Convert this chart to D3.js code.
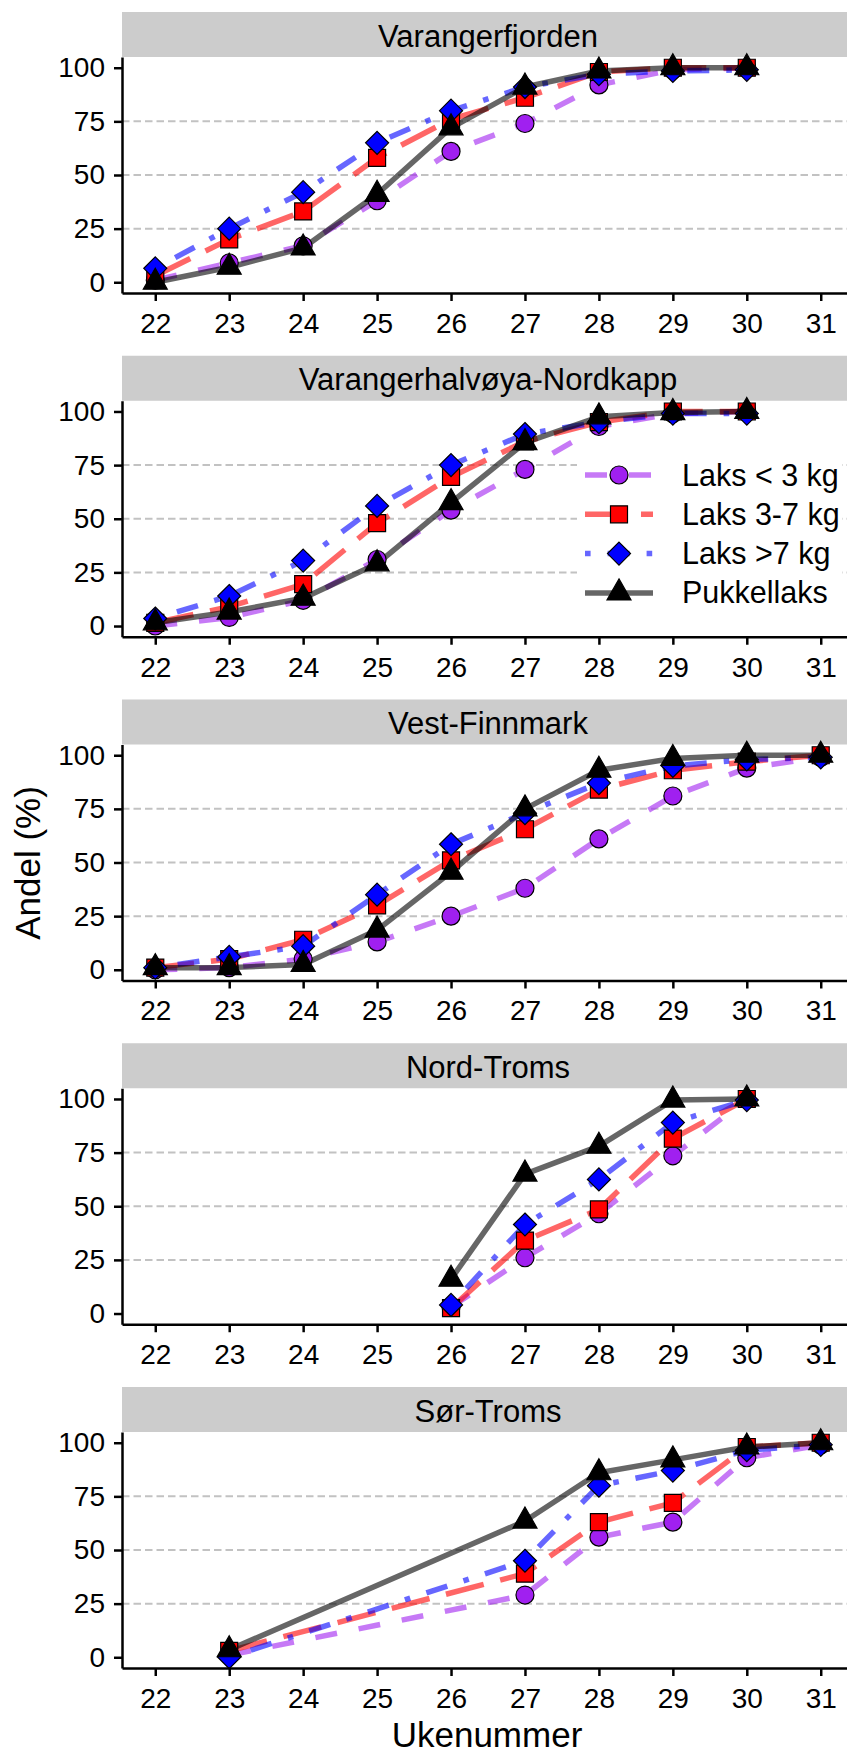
<!DOCTYPE html>
<meta charset="utf-8">
<head>
<style>
  body { margin: 0; background: #fff; }
  text { font-family: "Liberation Sans", Arial, sans-serif; fill: #000; }
</style>
</head>
<body>
<div id="my_dataviz"></div>

<script src="https://d3js.org/d3.v7.min.js"></script>
<script>

// weeks and ticks
var weeks = [22, 23, 24, 25, 26, 27, 28, 29, 30, 31];
var yTicks = [0, 25, 50, 75, 100];
var gridTicks = [25, 50, 75];
var regions = ["Varangerfjorden", "Varangerhalvøya-Nordkapp", "Vest-Finnmark", "Nord-Troms", "Sør-Troms"];
var seriesNames = ["Laks < 3 kg", "Laks 3-7 kg", "Laks >7 kg", "Pukkellaks"];

// share (%) per week 22..31, null = no catch that week
var varangerfjordenSmall = [1, 9, 17, 38, 61, 74, 92, 99, 100, null];
var varangerfjordenMid   = [3, 20, 33, 58, 76, 86, 98, 100, 100, null];
var varangerfjordenLarge = [6.5, 25, 42, 65, 80, 91, 97, 98.5, 99, null];
var varangerfjordenPink  = [0, 7, 16, 41, 72, 91, 98.5, 100, 100, null];

var nordkappSmall = [0, 4, 12, 31, 54, 73, 93, 99, 100, null];
var nordkappMid   = [1.5, 9, 19.5, 48, 69.5, 86, 95, 100, 100, null];
var nordkappLarge = [3.5, 14, 30.5, 56, 75, 89.5, 95, 99, 99, null];
var nordkappPink  = [1.5, 6.5, 13, 29, 57.5, 85.5, 97.5, 99.5, 100, null];

var vestFinnmarkSmall = [0, 1, 5, 13, 25, 38, 61, 81, 94, 99];
var vestFinnmarkMid   = [1, 5, 14, 30, 51, 65.5, 84, 93, 97, 100];
var vestFinnmarkLarge = [1, 6, 11, 35, 58.5, 73, 87, 95, 98, 99];
var vestFinnmarkPink  = [1, 1, 2.5, 18.5, 45.5, 75, 93, 98.5, 100, 100];

var nordTromsSmall = [null, null, null, null, 3, 26, 46.5, 73.5, 100, null];
var nordTromsMid   = [null, null, null, null, 2.5, 34, 48.5, 81.5, 100, null];
var nordTromsLarge = [null, null, null, null, 4, 41.5, 62.5, 89, 99.5, null];
var nordTromsPink  = [null, null, null, null, 16, 65, 78, 99.5, 100, null];

var sorTromsSmall = [null, 1, null, null, null, 29, 56, 63, 93, 99];
var sorTromsMid   = [null, 3, null, null, null, 39, 63, 72, 98, 100];
var sorTromsLarge = [null, 0, null, null, null, 45, 80, 87, 96.5, 99];
var sorTromsPink  = [null, 3.5, null, null, null, 63.5, 86, 92, 98, 100];

var table = [
  [varangerfjordenSmall, varangerfjordenMid, varangerfjordenLarge, varangerfjordenPink],
  [nordkappSmall, nordkappMid, nordkappLarge, nordkappPink],
  [vestFinnmarkSmall, vestFinnmarkMid, vestFinnmarkLarge, vestFinnmarkPink],
  [nordTromsSmall, nordTromsMid, nordTromsLarge, nordTromsPink],
  [sorTromsSmall, sorTromsMid, sorTromsLarge, sorTromsPink]
];

// look of each series
var colors = ["#A020F0", "#FF0000", "#0000FF", "#000000"];
var dashes = ["22,22", "39,17", "5.6,17,22,17", null];
var shapes = ["circle", "square", "diamond", "triangle"];

function shapePath(s) {
  if (s == "circle") return "M9,0A9,9 0 1,1 -9,0A9,9 0 1,1 9,0Z";
  if (s == "square") return "M-8.5,-8.5H8.5V8.5H-8.5Z";
  if (s == "diamond") return "M0,-11.5L11.5,0L0,11.5L-11.5,0Z";
  return "M0,-14L12,7L-12,7Z";
}

// layout
var width = 847, height = 1753;
var stripTop0 = 12, panelStep = 343.75, stripH = 45, plotH = 236;

var svg = d3.select("#my_dataviz")
  .append("svg")
    .attr("width", width)
    .attr("height", height);

var x = d3.scaleLinear().domain([21.55, 31.45]).range([122, 854]);
var y = d3.scaleLinear().domain([-5, 105]).range([plotH, 0]);

var line = d3.line()
  .x(function(d) { return x(d.week); })
  .y(function(d) { return y(d.value); });

regions.forEach(function(region, i) {
  var panel = svg.append("g")
    .attr("transform", "translate(0," + (stripTop0 + i * panelStep) + ")");

  // strip
  panel.append("rect")
    .attr("x", 122).attr("y", 0)
    .attr("width", 732).attr("height", stripH)
    .attr("fill", "#cccccc");
  panel.append("text")
    .attr("x", 488).attr("y", 34.5)
    .attr("text-anchor", "middle")
    .style("font-size", "31px")
    .text(region);

  var plot = panel.append("g").attr("transform", "translate(0," + stripH + ")");

  // grid
  plot.selectAll(".grid")
    .data(gridTicks)
    .enter().append("line")
      .attr("x1", 122).attr("x2", 854)
      .attr("y1", function(d) { return y(d); })
      .attr("y2", function(d) { return y(d); })
      .attr("stroke", "#c2c2c2")
      .attr("stroke-width", 2)
      .attr("stroke-dasharray", "7.5,4");

  var series = table[i].map(function(vals) {
    return weeks.map(function(w, k) { return {week: w, value: vals[k]}; })
      .filter(function(d) { return d.value != null; });
  });

  // lines
  series.forEach(function(pts, s) {
    plot.append("path")
      .datum(pts)
      .attr("d", line)
      .attr("fill", "none")
      .attr("stroke", colors[s])
      .attr("stroke-opacity", 0.6)
      .attr("stroke-width", 5.5)
      .attr("stroke-linejoin", "round")
      .attr("stroke-dasharray", dashes[s]);
  });

  // points
  series.forEach(function(pts, s) {
    plot.selectAll(".pt" + s)
      .data(pts)
      .enter().append("path")
        .attr("d", shapePath(shapes[s]))
        .attr("transform", function(d) { return "translate(" + x(d.week) + "," + y(d.value) + ")"; })
        .attr("fill", colors[s])
        .attr("stroke", "#000")
        .attr("stroke-width", 1.2);
  });

  // axes
  var xAxis = plot.append("g")
    .attr("transform", "translate(0," + plotH + ")")
    .call(d3.axisBottom(x).tickValues(weeks).tickSize(8).tickSizeOuter(0).tickPadding(12).tickFormat(d3.format("d")));
  var yAxis = plot.append("g")
    .attr("transform", "translate(122,0)")
    .call(d3.axisLeft(y).tickValues(yTicks).tickSize(8).tickSizeOuter(0).tickPadding(9));

  [xAxis, yAxis].forEach(function(a) {
    a.attr("font-family", null).attr("font-size", null);
    a.select(".domain").attr("stroke", "#000").attr("stroke-width", 2.5);
    a.selectAll(".tick line").attr("stroke", "#000").attr("stroke-width", 2.5);
    a.selectAll(".tick text").style("font-size", "28px").attr("fill", "#000");
  });
});

// legend inside the second panel
var legend = svg.append("g");
legend.append("rect")
  .attr("x", 577).attr("y", 448)
  .attr("width", 265).attr("height", 168)
  .attr("fill", "#fff");

seriesNames.forEach(function(name, s) {
  var cy = 475 + s * 39.3;
  legend.append("line")
    .attr("x1", 585).attr("x2", 653)
    .attr("y1", cy).attr("y2", cy)
    .attr("stroke", colors[s])
    .attr("stroke-opacity", 0.6)
    .attr("stroke-width", 5.5)
    .attr("stroke-dasharray", dashes[s]);
  legend.append("path")
    .attr("d", shapePath(shapes[s]))
    .attr("transform", "translate(619," + cy + ")")
    .attr("fill", colors[s])
    .attr("stroke", "#000")
    .attr("stroke-width", 1.2);
  legend.append("text")
    .attr("x", 682).attr("y", cy + 10.5)
    .style("font-size", "30.5px")
    .text(name);
});

// axis titles
svg.append("text")
  .attr("transform", "translate(40,863) rotate(-90)")
  .attr("text-anchor", "middle")
  .style("font-size", "35px")
  .text("Andel (%)");

svg.append("text")
  .attr("x", 487).attr("y", 1747)
  .attr("text-anchor", "middle")
  .style("font-size", "35px")
  .text("Ukenummer");

</script>
</body>
